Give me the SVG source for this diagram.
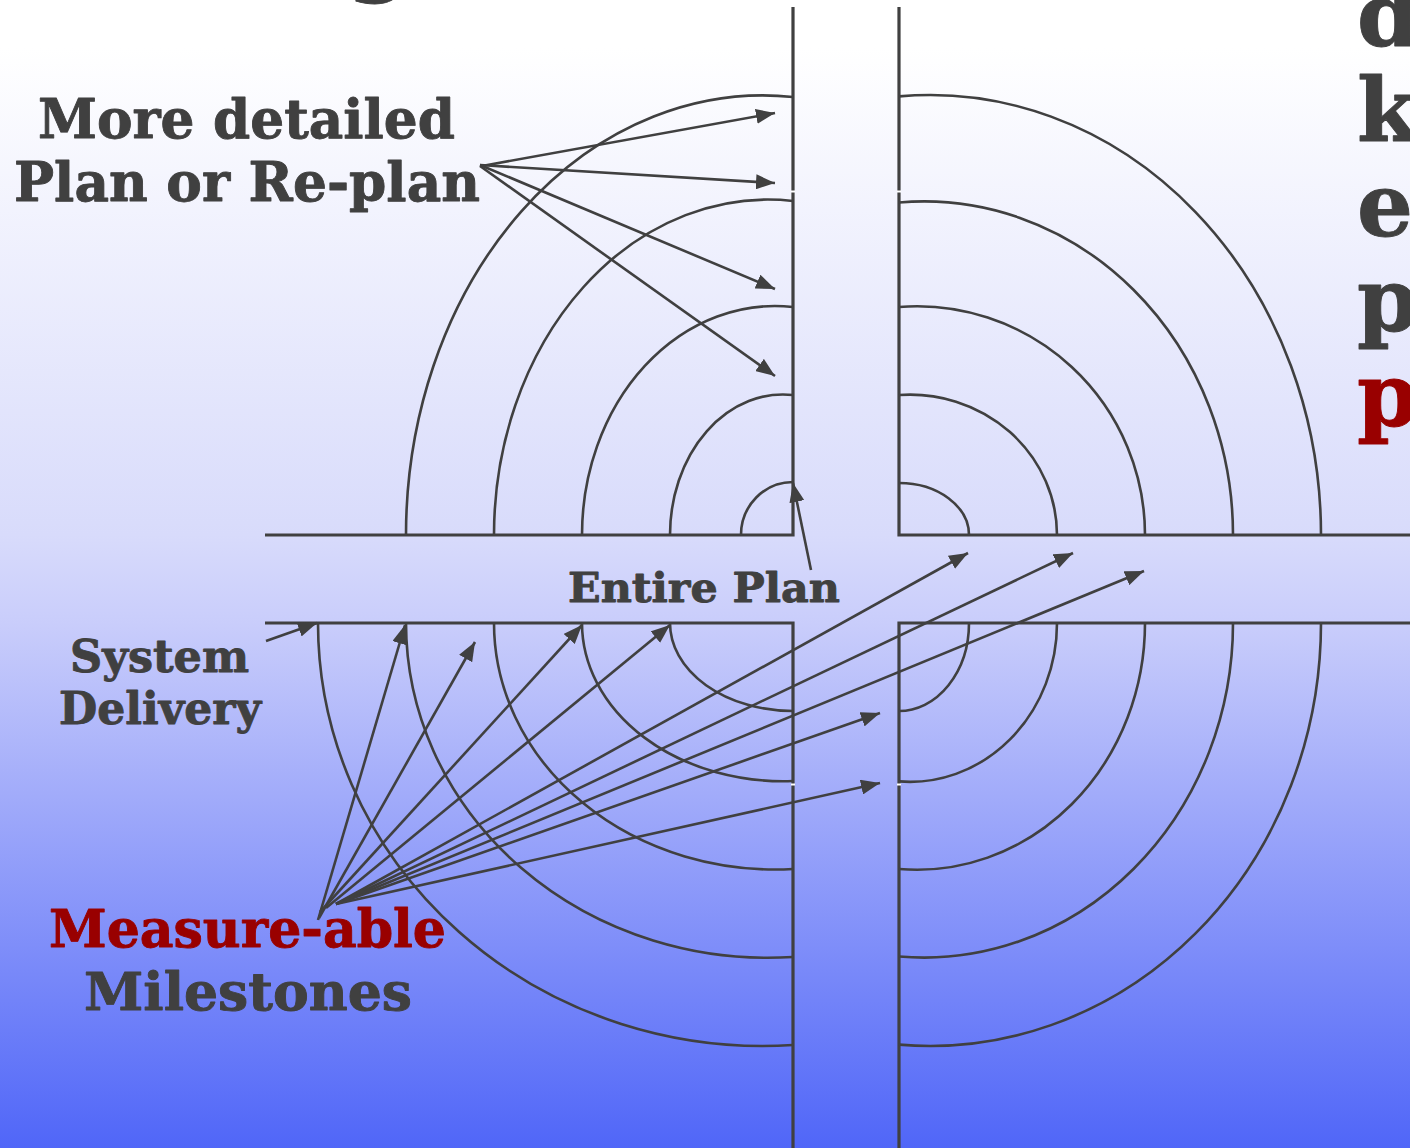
<svg xmlns="http://www.w3.org/2000/svg" width="1410" height="1148" viewBox="0 0 1410 1148">
<defs>
<linearGradient id="bg" gradientUnits="userSpaceOnUse" x1="0" y1="0" x2="0" y2="1148">
<stop offset="0" stop-color="#ffffff"/>
<stop offset="0.042" stop-color="#ffffff"/>
<stop offset="0.466" stop-color="#d8dbfb"/>
<stop offset="0.543" stop-color="#c9cdfb"/>
<stop offset="1" stop-color="#5066f8"/>
</linearGradient>
<marker id="ah" viewBox="0 0 19 15" refX="19" refY="7.5" markerWidth="19" markerHeight="15" markerUnits="userSpaceOnUse" orient="auto">
<path d="M0,0 L19,7.5 L0,15 Z" fill="#404040"/>
</marker>
<style>
.frame{fill:none;stroke:#404040;stroke-width:3.2;stroke-linejoin:miter}
.arc{fill:none;stroke:#404040;stroke-width:2.6}
.arr{fill:none;stroke:#404040;stroke-width:2.6;marker-end:url(#ah)}
.gap{fill:#ffffff}
.lbl{font-family:"DejaVu Serif","Liberation Serif",serif;font-weight:bold;fill:#404040;stroke:#404040;stroke-width:0.9;stroke-linejoin:round}
.red{fill:#990000;stroke:#990000}
</style>
</defs>
<rect x="0" y="0" width="1410" height="1148" fill="url(#bg)"/>

<g id="quadrant-top-left">
<polyline class="frame" points="793,7 793,535 265,535"/>
<rect class="gap" x="791" y="190.5" width="4" height="2"/>
<path class="arc" d="M793,97 A357,439.5 0 0 0 406,535"/>
<path class="arc" d="M793,201 A274,335.4 0 0 0 494,535"/>
<path class="arc" d="M793,307 A193,229 0 0 0 582,535"/>
<path class="arc" d="M793,395 A113,140.5 0 0 0 670,535"/>
<path class="arc" d="M793,482 A52,53 0 0 0 741,535"/>
</g>

<g id="quadrant-top-right">
<polyline class="frame" points="899,7 899,535 1410,535"/>
<rect class="gap" x="897" y="190.5" width="4" height="2"/>
<path class="arc" d="M899,96.4 A391,440 0 0 1 1321,535"/>
<path class="arc" d="M899,202.5 A309,333.6 0 0 1 1233,535"/>
<path class="arc" d="M899,307 A228,228.7 0 0 1 1145,535"/>
<path class="arc" d="M899,395 A147,140.4 0 0 1 1057,535"/>
<path class="arc" d="M899,483 A70,52 0 0 1 969,535"/>
</g>

<g id="quadrant-bottom-left">
<polyline class="frame" points="265,623 793,623 793,1148"/>
<rect class="gap" x="791" y="783.5" width="4" height="2"/>
<path class="arc" d="M318,623 A445,423 0 0 0 793,1045"/>
<path class="arc" d="M406,623 A362,334.8 0 0 0 793,957"/>
<path class="arc" d="M494,623 A281,246.5 0 0 0 793,869"/>
<path class="arc" d="M582,623 A201,158.2 0 0 0 793,781"/>
<path class="arc" d="M670,623 A123,88 0 0 0 793,711"/>
</g>

<g id="quadrant-bottom-right">
<polyline class="frame" points="1410,623 899,623 899,1148"/>
<rect class="gap" x="897" y="783.5" width="4" height="2"/>
<path class="arc" d="M1321,623 A391,423 0 0 1 899,1044.6"/>
<path class="arc" d="M1233,623 A309,334.6 0 0 1 899,956.5"/>
<path class="arc" d="M1145,623 A228,246.8 0 0 1 899,869"/>
<path class="arc" d="M1057,623 A147,158.8 0 0 1 899,781.4"/>
<path class="arc" d="M969,623 A70,88 0 0 1 899,711"/>
</g>

<g id="connectors">
<line class="arr" x1="482" y1="166" x2="775" y2="113"/>
<line class="arr" x1="480" y1="165" x2="775" y2="183"/>
<line class="arr" x1="480" y1="165" x2="775" y2="289"/>
<line class="arr" x1="480" y1="166" x2="775" y2="376"/>
<line class="arr" x1="811" y1="570" x2="793" y2="483"/>
<line class="arr" x1="266" y1="641" x2="317" y2="623"/>
<line class="arr" x1="318" y1="920" x2="405" y2="625"/>
<line class="arr" x1="319" y1="918" x2="475" y2="642"/>
<line class="arr" x1="320" y1="912" x2="582" y2="625"/>
<line class="arr" x1="326" y1="908" x2="670" y2="625"/>
<line class="arr" x1="336" y1="904" x2="968" y2="553"/>
<line class="arr" x1="336" y1="904" x2="1073" y2="553"/>
<line class="arr" x1="336" y1="904" x2="1144" y2="571"/>
<line class="arr" x1="336" y1="904" x2="880" y2="713"/>
<line class="arr" x1="336" y1="904" x2="880" y2="783"/>
</g>

<g id="label-replan">
<text class="lbl" x="38" y="138" font-size="55" textLength="417" lengthAdjust="spacingAndGlyphs">More detailed</text>
<text class="lbl" x="14" y="201" font-size="55" textLength="466" lengthAdjust="spacingAndGlyphs">Plan or Re-plan</text>
</g>
<g id="label-entire-plan">
<text class="lbl" x="568" y="602" font-size="41" textLength="272" lengthAdjust="spacingAndGlyphs">Entire Plan</text>
</g>
<g id="label-system-delivery">
<text class="lbl" x="70" y="672" font-size="45" textLength="179" lengthAdjust="spacingAndGlyphs">System</text>
<text class="lbl" x="59" y="724" font-size="45" textLength="202" lengthAdjust="spacingAndGlyphs">Delivery</text>
</g>
<g id="label-milestones">
<text class="lbl red" x="49" y="947" font-size="52" textLength="397" lengthAdjust="spacingAndGlyphs">Measure-able</text>
<text class="lbl" x="84" y="1010" font-size="52" textLength="328" lengthAdjust="spacingAndGlyphs">Milestones</text>
</g>
<g id="label-right-edge">
<text class="lbl" x="1357" y="46" font-size="88">d</text>
<text class="lbl" x="1357" y="141" font-size="88">k</text>
<text class="lbl" x="1357" y="236" font-size="88">e</text>
<text class="lbl" x="1357" y="331" font-size="88">p</text>
<text class="lbl red" x="1357" y="426" font-size="88">p</text>
</g>
<g id="label-top-fragment">
<text class="lbl" x="348" y="-16" font-size="88">g</text>
</g>
</svg>
